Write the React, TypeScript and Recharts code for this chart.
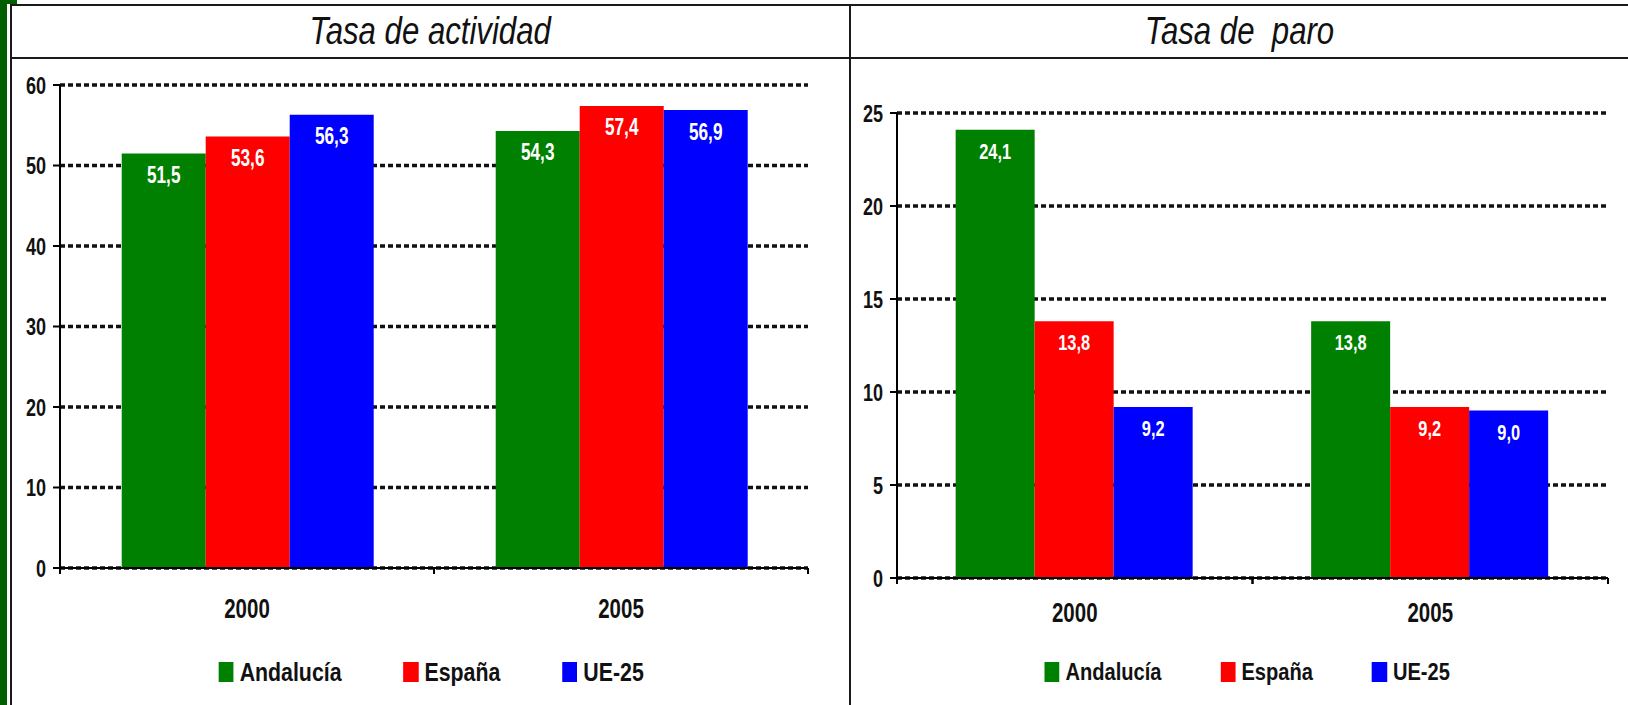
import { BarChart, Bar, XAxis, YAxis, CartesianGrid, Legend, LabelList } from 'recharts'

const categories = ['2000', '2005']
const seriesNames = ['Andalucía', 'España', 'UE-25']
const seriesColors = ['#008000', '#ff0000', '#0000ff']

// Tasa de actividad
const actividadAndalucia = [51.5, 54.3]
const actividadEspana = [53.6, 57.4]
const actividadUE = [56.3, 56.9]
const actividadTicks = [0, 10, 20, 30, 40, 50, 60]

// Tasa de paro
const paroAndalucia = [24.1, 13.8]
const paroEspana = [13.8, 9.2]
const paroUE = [9.2, 9.0]
const paroTicks = [0, 5, 10, 15, 20, 25]

// no Arial Narrow here: Liberation Sans squeezed horizontally instead
const FONT = "'Liberation Sans', Arial, sans-serif"
const SQUEEZE = 0.82
const STRETCH = 1.12

const buildRows = (a: number[], e: number[], u: number[]) =>
  categories.map((year, i) => ({ year, s0: a[i], s1: e[i], s2: u[i] }))

const actividadData = buildRows(actividadAndalucia, actividadEspana, actividadUE)
const paroData = buildRows(paroAndalucia, paroEspana, paroUE)

const fmt = (v: any) => Number(v).toFixed(1).replace('.', ',')

function NarrowText(props: any) {
  const { x, y, anchor = 'middle', size, fill = '#111', children } = props
  return (
    <text transform={`translate(${x},${y}) scale(${SQUEEZE},${STRETCH})`} textAnchor={anchor}
      dominantBaseline="central" fill={fill} fontSize={size} fontWeight="bold" fontFamily={FONT}>
      {children}
    </text>
  )
}

function YearTick(props: any) {
  const { x, y, payload, labelDy } = props
  const half = payload && payload.offset ? payload.offset : 0
  return (
    <g>
      {half > 0 && <line x1={x - half} x2={x - half} y1={y} y2={y + 6} stroke="#000" strokeWidth={2} />}
      {half > 0 && <line x1={x + half} x2={x + half} y1={y} y2={y + 6} stroke="#000" strokeWidth={2} />}
      <NarrowText x={x} y={y + labelDy} size={25}>{payload.value}</NarrowText>
    </g>
  )
}

function ValueTick(props: any) {
  const { x, y, payload } = props
  return <NarrowText x={x} y={y} anchor="end" size={22}>{payload.value}</NarrowText>
}

function BarValue(props: any) {
  const { x, y, width, value, size } = props
  return <NarrowText x={x + width / 2} y={y + 21} size={size} fill="#fff">{fmt(value)}</NarrowText>
}

function LegendBox({ fontSize, gap }: any) {
  const k = 1 / SQUEEZE
  return (
    <div style={{ height: 30, display: 'flex', justifyContent: 'center', alignItems: 'center' }}>
      <div style={{ display: 'flex', alignItems: 'center', gap: gap * k, transform: `scaleX(${SQUEEZE})`, transformOrigin: 'center' }}>
        {seriesNames.map((name, i) => (
          <div key={name} style={{ display: 'flex', alignItems: 'center', gap: 6 * k }}>
            <div style={{ width: 15 * k, height: 20, background: seriesColors[i] }} />
            <span style={{ fontFamily: FONT, fontWeight: 'bold', fontSize, color: '#111', whiteSpace: 'nowrap' }}>{name}</span>
          </div>
        ))}
      </div>
    </div>
  )
}

function Panel(props: any) {
  const { data, ticks, width, margin, xAxisHeight, labelDy, legendFont, legendGap, legendShift, valueSize } = props
  return (
    <BarChart width={width} height={646} data={data} margin={margin}
      barCategoryGap="16.5%" barGap={0}>
      <CartesianGrid vertical={false} stroke="#111" strokeWidth={3.5} strokeDasharray="5 3" />
      <XAxis dataKey="year" height={xAxisHeight} tickSize={0} tickMargin={0}
        axisLine={{ stroke: '#000', strokeWidth: 2 }} tickLine={false}
        tick={(p: any) => <YearTick {...p} labelDy={labelDy} />} />
      <YAxis width={40} domain={[ticks[0], ticks[ticks.length - 1]]} ticks={ticks} interval={0}
        axisLine={{ stroke: '#000', strokeWidth: 2 }} tickLine={{ stroke: '#000', strokeWidth: 2 }}
        tickSize={7} tickMargin={7} tick={(p: any) => <ValueTick {...p} />} />
      <Legend verticalAlign="bottom" content={() => <LegendBox fontSize={legendFont} gap={legendGap} />}
        wrapperStyle={{ left: legendShift, width: '100%', bottom: 18 }} />
      {['s0', 's1', 's2'].map((k, i) => (
        <Bar key={k} dataKey={k} name={seriesNames[i]} fill={seriesColors[i]} isAnimationActive={false}>
          <LabelList dataKey={k} content={(p: any) => <BarValue {...p} size={valueSize} />} />
        </Bar>
      ))}
    </BarChart>
  )
}

export default function App() {
  const line = '#1a1a1a'
  const titleStyle: any = {
    position: 'absolute', top: 6, height: 51, display: 'flex', alignItems: 'center', justifyContent: 'center',
    fontFamily: FONT, fontStyle: 'italic', fontSize: 38, color: '#111', whiteSpace: 'pre',
  }
  return (
    <div style={{ position: 'fixed', left: 0, top: 0, width: 1628, height: 705, background: '#fff', overflow: 'hidden' }}>
      <div style={{ position: 'absolute', left: 0, top: 0, width: 7, height: 705, background: '#006000' }} />
      <div style={{ position: 'absolute', left: 0, top: 0, width: 17, height: 4, background: '#006000' }} />
      <div style={{ position: 'absolute', left: 10, top: 4, width: 1618, height: 2, background: line }} />
      <div style={{ position: 'absolute', left: 10, top: 4, width: 2, height: 701, background: line }} />
      <div style={{ position: 'absolute', left: 10, top: 57, width: 1618, height: 2, background: line }} />
      <div style={{ position: 'absolute', left: 849, top: 4, width: 2, height: 701, background: line }} />

      <div style={{ ...titleStyle, left: 12, width: 837 }}>
        <span style={{ display: 'inline-block', transform: `scaleX(${SQUEEZE})` }}>Tasa de actividad</span>
      </div>
      <div style={{ ...titleStyle, left: 851, width: 777 }}>
        <span style={{ display: 'inline-block', transform: `scaleX(${SQUEEZE})` }}>{'Tasa de  paro'}</span>
      </div>

      <div style={{ position: 'absolute', left: 12, top: 59 }}>
        <Panel data={actividadData} ticks={actividadTicks} width={838}
          margin={{ top: 26, right: 42, left: 8, bottom: 18 }} xAxisHeight={89} labelDy={40}
          legendFont={26} legendGap={62} legendShift={0} valueSize={21} />
      </div>
      <div style={{ position: 'absolute', left: 851, top: 59 }}>
        <Panel data={paroData} ticks={paroTicks} width={777}
          margin={{ top: 54, right: 20, left: 6, bottom: 18 }} xAxisHeight={79} labelDy={34}
          legendFont={24.5} legendGap={59} legendShift={8} valueSize={20} />
      </div>
    </div>
  )
}
